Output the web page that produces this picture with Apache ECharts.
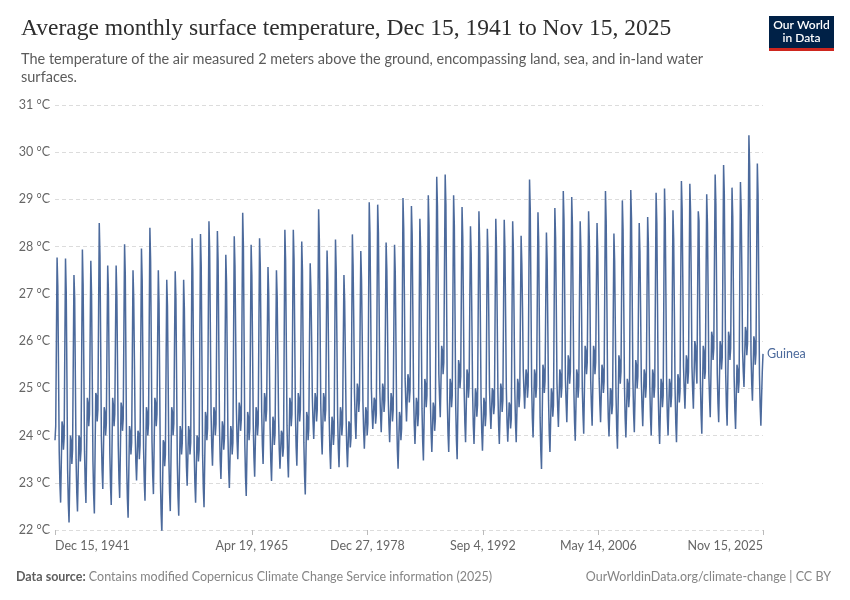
<!DOCTYPE html>
<html><head><meta charset="utf-8">
<script src="https://cdn.jsdelivr.net/npm/echarts@6/dist/echarts.min.js"></script>
<style>html,body{margin:0;padding:0;background:#fff}#c{width:850px;height:600px}</style>
</head><body><div id="c"></div>
<script>
// Monthly values (°C), first value is Dec 15, 1941, one value per month (15th of each month)
const temps1940s = [23.9,
24.2,26.09,27.77,27.17,25.48,23.68,22.98,22.58,23.44,24.3,24.2,23.7,
23.95,25.95,27.75,27.05,25.26,23.26,22.56,22.16,23.08,24.0,23.9,23.4,
23.7,25.65,27.4,26.9,25.2,23.49,22.79,22.39,23.2,24.0,23.95,23.45,
23.7,25.92,27.94,27.2,25.56,23.67,22.97,22.57,23.69,24.8,24.7,24.2,
24.45,26.18,27.7,27.0,25.33,23.45,22.75,22.35,23.63,24.9,24.85,24.3,
24.55,26.63,28.5,27.8,25.99,23.97,23.27,22.87,23.74,24.6,24.5,24.0,
24.25,26.03,27.6,27.05,25.37,23.63,22.93,22.53,23.67,24.8,24.65,24.2,
24.45,26.13,27.6,26.95,25.44,23.78,23.08,22.68,23.69,24.7,24.6,24.1];
const temps1950s = [
24.35,26.3,28.05,27.4,25.46,23.36,22.66,22.26,23.23,24.2,24.1,23.6,
23.85,25.78,27.5,26.9,25.58,24.15,23.45,23.05,23.58,24.1,24.05,23.5,
23.8,25.98,27.96,27.3,25.59,23.72,23.02,22.62,23.61,24.6,24.5,24.0,
24.25,26.43,28.4,27.7,25.88,23.86,23.16,22.76,23.78,24.8,24.7,24.2,
24.45,26.08,27.5,26.8,25.02,23.03,22.33,21.93,22.92,23.9,23.85,23.35,
23.6,25.55,27.3,26.75,25.15,23.5,22.8,22.4,23.5,24.6,24.5,24.0,
24.25,25.97,27.48,26.9,25.19,23.4,22.7,22.3,23.25,24.2,24.1,23.6,
23.85,25.68,27.3,26.7,25.42,24.04,23.34,22.94,23.57,24.2,24.1,23.6,
23.85,26.12,28.18,27.5,25.68,23.68,22.98,22.58,23.29,24.0,23.95,23.45,
23.7,26.09,28.27,27.6,25.68,23.58,22.88,22.48,23.49,24.5,24.4,23.9];
const temps1960s = [
24.15,26.45,28.54,27.9,26.25,24.46,23.76,23.36,23.98,24.6,24.5,24.0,
24.25,26.39,28.33,27.7,26.0,24.18,23.48,23.08,23.69,24.3,24.2,23.7,
23.95,25.99,27.83,27.25,25.66,23.99,23.29,22.89,23.55,24.2,24.1,23.6,
23.85,26.14,28.22,27.6,26.16,24.6,23.9,23.5,24.1,24.7,24.6,24.1,
24.35,26.64,28.72,28.0,26.02,23.82,23.12,22.72,23.61,24.5,24.4,23.9,
24.15,26.2,28.04,27.4,25.89,24.23,23.53,23.13,23.87,24.6,24.5,24.0,
24.25,26.32,28.18,27.6,26.09,24.5,23.8,23.4,24.15,24.9,24.8,24.3,
24.55,26.16,27.57,27.0,25.61,24.14,23.44,23.04,23.72,24.4,24.3,23.8,
24.05,25.88,27.5,26.95,25.7,24.4,23.7,23.3,23.7,24.1,24.05,23.55,
23.75,26.16,28.36,27.7,26.04,24.21,23.51,23.11,23.96,24.8,24.7,24.2];
const temps1970s = [
24.45,26.51,28.36,27.75,26.16,24.46,23.76,23.36,24.13,24.9,24.8,24.3,
24.55,26.43,28.11,27.5,25.73,23.85,23.15,22.75,23.63,24.5,24.4,23.9,
24.15,26.0,27.65,27.1,26.09,24.83,24.3,23.93,24.42,24.9,24.8,24.3,
24.55,26.77,28.79,28.15,26.5,24.7,24.0,23.6,24.25,24.9,24.8,24.3,
24.55,26.34,27.92,27.3,25.91,24.39,23.69,23.29,23.85,24.4,24.3,23.8,
24.05,26.2,28.15,27.5,26.04,24.43,23.73,23.33,23.97,24.6,24.5,24.0,
24.25,25.93,27.4,26.85,25.67,24.43,23.73,23.33,23.82,24.3,24.25,23.75,
23.95,26.21,28.26,27.6,26.4,24.9,24.3,23.93,24.52,25.1,25.0,24.5,
24.75,26.43,27.91,27.3,26.12,24.7,24.1,23.72,24.16,24.6,24.5,24.0,
24.25,26.7,28.94,28.3,26.84,25.0,24.5,24.14,24.47,24.8,24.75,24.25];
const temps1980s = [
24.45,26.77,28.89,28.3,26.78,24.95,24.45,24.07,24.59,25.1,25.0,24.5,
24.75,26.52,28.09,27.5,26.28,24.8,24.25,23.86,24.38,24.9,24.8,24.3,
24.55,26.4,28.04,27.45,25.97,24.4,23.7,23.3,23.9,24.5,24.4,23.9,
24.15,26.69,29.03,28.4,26.97,25.2,24.7,24.3,24.8,25.3,25.2,24.7,
24.95,27.0,28.86,28.25,26.64,24.9,24.22,23.82,24.31,24.8,24.7,24.2,
24.45,26.62,28.59,28.0,26.33,24.57,23.87,23.47,24.34,25.2,25.1,24.6,
24.85,27.07,29.09,28.45,26.67,24.75,24.05,23.65,24.18,24.7,24.6,24.1,
24.35,27.02,29.48,28.85,27.24,25.3,24.8,24.39,25.15,25.9,25.8,25.3,
25.55,27.64,29.53,28.9,26.89,24.75,24.05,23.65,24.43,25.2,25.1,24.6,
24.85,27.07,29.09,28.45,26.6,24.6,23.9,23.5,24.55,25.6,25.5,25.0];
const temps1990s = [
25.25,27.15,28.84,28.2,26.65,24.96,24.26,23.86,24.63,25.4,25.3,24.8,
25.05,26.84,28.43,27.85,26.43,24.92,24.22,23.82,24.41,25.0,24.9,24.4,
24.65,26.8,28.75,28.1,26.52,24.78,24.08,23.68,24.24,24.8,24.7,24.2,
24.45,26.52,28.38,27.8,26.56,25.0,24.5,24.14,24.57,25.0,24.95,24.45,
24.65,26.72,28.59,27.95,26.51,24.92,24.22,23.82,24.46,25.1,25.0,24.5,
24.75,26.76,28.57,27.95,26.52,24.97,24.27,23.87,24.29,24.7,24.65,24.15,
24.35,26.55,28.54,27.9,26.5,24.96,24.26,23.86,24.53,25.2,25.1,24.6,
24.85,26.64,28.23,27.65,26.7,25.4,24.95,24.57,24.99,25.4,25.3,24.8,
25.05,27.34,29.42,28.8,26.99,25.06,24.36,23.96,24.68,25.4,25.3,24.8,
25.05,26.99,28.73,28.1,26.31,24.39,23.69,23.29,24.4,25.5,25.4,24.9];
const temps2000s = [
25.15,26.83,28.3,27.7,26.28,24.75,24.05,23.65,24.33,25.0,24.9,24.4,
24.65,26.84,28.82,28.2,26.8,25.1,24.6,24.18,24.79,25.4,25.3,24.8,
25.05,27.22,29.18,28.55,27.03,25.2,24.7,24.28,24.99,25.7,25.6,25.1,
25.35,27.3,29.05,28.45,26.77,24.99,24.29,23.89,24.65,25.4,25.3,24.8,
25.05,26.9,28.54,27.95,26.59,25.0,24.44,24.04,24.97,25.9,25.8,25.3,
25.55,27.25,28.75,28.15,26.78,25.15,24.61,24.21,25.06,25.9,25.8,25.3,
25.55,27.13,28.5,27.9,26.69,25.2,24.68,24.28,24.89,25.5,25.4,24.9,
25.15,27.27,29.18,28.55,26.88,25.08,24.38,23.98,24.49,25.0,24.95,24.45,
24.65,26.57,28.28,27.7,26.3,24.82,24.12,23.72,24.71,25.7,25.6,25.1,
25.35,27.27,28.98,28.35,26.77,25.06,24.36,23.96,24.58,25.2,25.1,24.6];
const temps2010s = [
24.85,27.13,29.2,28.6,26.94,25.17,24.47,24.07,24.84,25.6,25.5,25.0,
25.25,26.98,28.5,27.9,26.65,25.15,24.6,24.2,24.8,25.4,25.3,24.8,
25.05,26.94,28.63,28.05,26.62,25.05,24.4,24.0,24.7,25.4,25.3,24.8,
25.05,27.2,29.14,28.5,26.78,24.92,24.22,23.82,24.51,25.2,25.1,24.6,
24.85,27.14,29.23,28.6,26.92,25.1,24.4,24.0,24.6,25.2,25.1,24.6,
24.85,26.91,28.77,28.15,26.62,24.96,24.26,23.86,24.58,25.3,25.2,24.7,
24.95,27.27,29.39,28.8,27.28,25.45,24.95,24.57,25.14,25.7,25.6,25.1,
25.35,27.44,29.33,28.75,27.25,25.45,24.95,24.57,25.29,26.0,25.9,25.4,
25.1,27.03,28.75,28.55,26.7,25.14,24.44,24.04,24.97,25.9,25.8,25.2,
25.35,27.33,29.11,28.5,27.05,25.3,24.79,24.39,25.3,26.2,26.1,25.6];
const temps2020s = [
25.85,27.79,29.53,28.9,27.2,25.3,24.68,24.28,25.14,26.0,25.9,25.4,
25.65,27.79,29.73,29.1,27.27,25.3,24.61,24.21,25.2,26.2,26.1,25.6,
25.85,27.65,29.25,28.65,27.0,25.24,24.54,24.14,24.82,25.5,25.4,24.9,
25.15,27.36,29.37,28.8,27.5,25.8,25.35,25.03,25.67,26.3,26.2,25.7,
25.95,28.25,30.36,29.7,27.85,25.7,25.1,24.74,25.42,26.1,26.0,25.5,
25.75,27.85,29.76,29.1,27.3,25.3,24.61,24.21,24.8,25.35,25.73];

const seriesName = 'Guinea';
const yTicks = [22, 23, 24, 25, 26, 27, 28, 29, 30, 31];
const xTickDates = ['1941-12-15', '1965-04-19', '1978-12-27', '1992-09-04', '2006-05-14', '2025-11-15'];
const monthNames = ['Jan','Feb','Mar','Apr','May','Jun','Jul','Aug','Sep','Oct','Nov','Dec'];

const allTemps = [].concat(temps1940s, temps1950s, temps1960s, temps1970s, temps1980s, temps1990s, temps2000s, temps2010s, temps2020s);
const data = allTemps.map((v, i) => [Date.UTC(1941, 11 + i, 15), v]);
const tickTs = xTickDates.map(s => Date.parse(s + 'T00:00:00Z'));

function fmtDate(ts) {
  const d = new Date(ts);
  return monthNames[d.getUTCMonth()] + ' ' + d.getUTCDate() + ', ' + d.getUTCFullYear();
}

const chart = echarts.init(document.getElementById('c'));
chart.setOption({
  backgroundColor: '#fff',
  animation: false,
  title: [{
    text: 'Average monthly surface temperature, Dec 15, 1941 to Nov 15, 2025',
    left: 16, top: 12,
    textStyle: { fontFamily: 'Liberation Serif', fontSize: 23.5, fontWeight: 'normal', color: '#2e2e2e' }
  }, {
    text: 'The temperature of the air measured 2 meters above the ground, encompassing land, sea, and in-land water\nsurfaces.',
    left: 16, top: 45,
    textStyle: { fontFamily: 'Lato', fontSize: 14.5, fontWeight: 'normal', color: '#5b5b5b', lineHeight: 18 }
  }],
  grid: { left: 55, right: 87, top: 105, bottom: 70 },
  xAxis: {
    type: 'value',
    min: tickTs[0], max: tickTs[tickTs.length - 1],
    axisLine: { show: false },
    axisTick: { show: true, customValues: tickTs, length: 5, lineStyle: { color: '#bbb' } },
    axisLabel: {
      customValues: tickTs, formatter: v => fmtDate(v),
      color: '#666', fontSize: 12.5, fontFamily: 'Lato', margin: 9,
      alignMinLabel: 'left', alignMaxLabel: 'right', showMinLabel: true, showMaxLabel: true
    },
    splitLine: { show: false }
  },
  yAxis: {
    type: 'value', min: yTicks[0], max: yTicks[yTicks.length - 1], interval: 1,
    axisLabel: { formatter: '{value} °C', color: '#666', fontSize: 12.5, fontFamily: 'Lato', margin: 5 },
    axisLine: { show: false }, axisTick: { show: false },
    splitLine: { lineStyle: { color: '#dcdcdc', type: [4, 3], width: 1 } }
  },
  series: [{
    name: seriesName, type: 'line', data: data, showSymbol: false, symbol: 'none',
    lineStyle: { color: '#4c6a9c', width: 1.5 },
    endLabel: { show: true, formatter: seriesName, color: '#4c6a9c', fontSize: 12.5, fontFamily: 'Lato', distance: 4 }
  }],
  graphic: [
    { type: 'rect', shape: { x: 769, y: 16, width: 65, height: 35 }, style: { fill: '#002147' } },
    { type: 'rect', shape: { x: 769, y: 48, width: 65, height: 3 }, style: { fill: '#ce261e' } },
    { type: 'text', x: 801.5, y: 32, style: { text: 'Our World\nin Data', fill: '#fff', font: '600 12px Lato', lineHeight: 13, align: 'center', verticalAlign: 'middle' } },
    { type: 'text', x: 16, y: 577, style: { text: '{b|Data source:} Contains modified Copernicus Climate Change Service information (2025)', fill: '#858585', font: '12.5px Lato', verticalAlign: 'middle', rich: { b: { fontWeight: 'bold', fill: '#5e5e5e', fontFamily: 'Lato', fontSize: 12.5 } } } },
    { type: 'text', x: 831, y: 577, style: { text: 'OurWorldinData.org/climate-change | CC BY', fill: '#858585', font: '12.5px Lato', align: 'right', verticalAlign: 'middle' } }
  ]
});
</script></body></html>
